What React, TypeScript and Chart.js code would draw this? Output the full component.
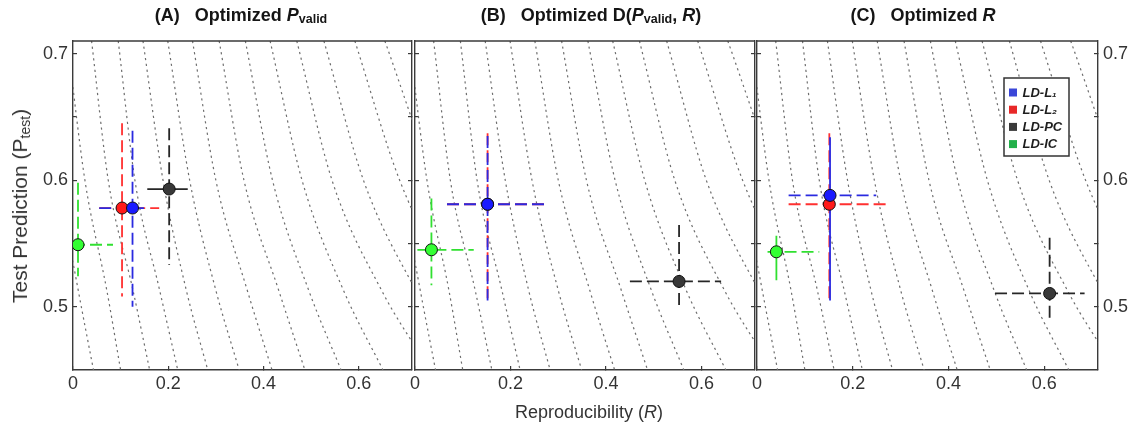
import React, { useEffect, useRef } from 'react';
import { Chart, registerables } from 'chart.js';

Chart.register(...registerables);

const FONT = "'Liberation Sans', Arial, Helvetica, sans-serif";

// ---------- data ----------
const seriesNames = ['LD-L\u2081', 'LD-L\u2082', 'LD-PC', 'LD-IC'];

const xTickValues = [0, 0.2, 0.4, 0.6];
const xTickLabels = ['0', '0.2', '0.4', '0.6'];
const yTickValues = [0.5, 0.55, 0.6, 0.65, 0.7];
const yTickLabels = ['0.5', '', '0.6', '', '0.7'];
const X_MIN = 0;
const X_MAX = 0.712;
const Y_MIN = 0.45;
const Y_MAX = 0.71;

// Panel A: Optimized P_valid  (order: L1, L2, PC, IC)
const aR = [0.125, 0.103, 0.202, 0.0105];
const aP = [0.578, 0.578, 0.593, 0.549];
const aRlo = [0.055, 0.055, 0.156, 0.0];
const aRhi = [0.149, 0.181, 0.241, 0.084];
const aPlo = [0.5, 0.508, 0.533, 0.524];
const aPhi = [0.639, 0.645, 0.641, 0.598];

// Panel B: Optimized D(P_valid, R)
const bR = [0.152, 0.152, 0.553, 0.0344];
const bP = [0.581, 0.581, 0.52, 0.545];
const bRlo = [0.067, 0.067, 0.45, 0.005];
const bRhi = [0.272, 0.274, 0.641, 0.123];
const bPlo = [0.505, 0.505, 0.5, 0.517];
const bPhi = [0.635, 0.637, 0.5645, 0.5855];

// Panel C: Optimized R
const cR = [0.1525, 0.151, 0.611, 0.0405];
const cP = [0.588, 0.581, 0.5105, 0.5434];
const cRlo = [0.066, 0.066, 0.497, 0.022];
const cRhi = [0.249, 0.273, 0.684, 0.13];
const cPlo = [0.505, 0.505, 0.489, 0.521];
const cPhi = [0.634, 0.637, 0.5545, 0.556];

// Background iso-lines: R position read at each of these P levels
const contourP = [0.71, 0.6, 0.513, 0.45];
const contourR: number[][] = [
  [-0.065, -0.03, 0.011, 0.043],
  [-0.012, 0.025, 0.071, 0.1],
  [0.039, 0.074, 0.126, 0.161],
  [0.095, 0.13, 0.182, 0.22],
  [0.147, 0.189, 0.238, 0.283],
  [0.199, 0.245, 0.3, 0.349],
  [0.251, 0.3, 0.366, 0.418],
  [0.307, 0.359, 0.432, 0.487],
  [0.362, 0.419, 0.495, 0.563],
  [0.414, 0.481, 0.568, 0.651],
  [0.47, 0.544, 0.648, 0.75],
  [0.527, 0.61, 0.72, 0.82],
  [0.592, 0.686, 0.8, 0.9],
  [0.655, 0.76, 0.88, 0.98],
];

// ---------- styles ----------
const markerFill = ['#1a1aff', '#ff1a1a', '#383838', '#33ff33'];
const barColor = ['#2a2ae0', '#ff3030', '#262626', '#30e030'];
const legendColor = ['#3a46d8', '#e82828', '#3a3a3a', '#22b04a'];
const AXIS = '#3a3a3a';
const DASH = [12, 5];
// bars drawn solid: [panel][series] -> [horizontalSolid, verticalSolid]
const solid: boolean[][][] = [
  [[false, false], [false, false], [true, false], [false, false]],
  [[false, false], [false, false], [false, false], [false, false]],
  [[false, true], [false, false], [false, false], [false, true]],
];

type PanelData = { R: number[]; P: number[]; Rlo: number[]; Rhi: number[]; Plo: number[]; Phi: number[] };
const panelData: PanelData[] = [
  { R: aR, P: aP, Rlo: aRlo, Rhi: aRhi, Plo: aPlo, Phi: aPhi },
  { R: bR, P: bP, Rlo: bRlo, Rhi: bRhi, Plo: bPlo, Phi: bPhi },
  { R: cR, P: cP, Rlo: cRlo, Rhi: cRhi, Plo: cPlo, Phi: cPhi },
];

function buildDatasets(idx: number) {
  const p = panelData[idx];
  const ds: any[] = [];
  for (let i = 0; i < 4; i++) {
    ds.push({
      label: seriesNames[i],
      data: [{ x: p.R[i], y: p.P[i] }],
      pointRadius: 6,
      pointHoverRadius: 6,
      pointBackgroundColor: markerFill[i],
      pointBorderColor: '#111',
      pointBorderWidth: 1,
      showLine: false,
      order: 0,
    });
  }
  for (let i = 0; i < 4; i++) {
    ds.push({
      label: seriesNames[i] + ' R-range',
      data: [{ x: p.Rlo[i], y: p.P[i] }, { x: p.Rhi[i], y: p.P[i] }],
      showLine: true,
      pointRadius: 0,
      borderColor: barColor[i],
      borderWidth: 1.8,
      borderDash: solid[idx][i][0] ? [] : DASH,
      order: 1,
    });
    ds.push({
      label: seriesNames[i] + ' P-range',
      data: [{ x: p.R[i], y: p.Phi[i] }, { x: p.R[i], y: p.Plo[i] }],
      showLine: true,
      pointRadius: 0,
      borderColor: barColor[i],
      borderWidth: 1.8,
      borderDash: solid[idx][i][1] ? [] : DASH,
      order: 1,
    });
  }
  contourR.forEach((xs, k) => {
    ds.push({
      label: 'iso ' + k,
      data: xs.map((x, j) => ({ x, y: contourP[j] })),
      showLine: true,
      pointRadius: 0,
      borderColor: '#6e6e6e',
      borderWidth: 1.2,
      borderDash: [2.2, 3.6],
      cubicInterpolationMode: 'monotone',
      order: 2,
    });
  });
  return ds;
}

const framePlugin = {
  id: 'frameTop',
  afterDatasetsDraw(chart: any) {
    const { ctx, chartArea: a } = chart;
    ctx.save();
    ctx.strokeStyle = AXIS;
    ctx.lineWidth = 1.4;
    ctx.beginPath();
    ctx.moveTo(a.left, a.top);
    ctx.lineTo(a.right, a.top);
    ctx.stroke();
    ctx.restore();
  },
};

const legendPlugin = {
  id: 'boxLegend',
  afterDraw(chart: any) {
    const { ctx, chartArea: a } = chart;
    const bx = a.right - 94;
    const by = a.top + 37;
    const bw = 65;
    const bh = 78;
    ctx.save();
    ctx.fillStyle = '#fff';
    ctx.fillRect(bx, by, bw, bh);
    ctx.strokeStyle = '#333';
    ctx.lineWidth = 1.5;
    ctx.strokeRect(bx, by, bw, bh);
    ctx.font = `italic bold 13px ${FONT}`;
    ctx.textBaseline = 'middle';
    ctx.textAlign = 'left';
    seriesNames.forEach((name, i) => {
      const cy = by + 14.5 + i * 17.2;
      ctx.fillStyle = legendColor[i];
      ctx.fillRect(bx + 5, cy - 4, 8, 8);
      ctx.fillStyle = '#1e1e1e';
      ctx.fillText(name, bx + 18.5, cy + 0.5);
    });
    ctx.restore();
  },
};

function yAxis(position: 'left' | 'right', showLabels: boolean, width: number) {
  return {
    type: 'linear',
    position,
    min: Y_MIN,
    max: Y_MAX,
    afterBuildTicks: (s: any) => {
      s.ticks = yTickValues.map((v) => ({ value: v }));
    },
    afterFit: (s: any) => {
      s.width = width;
      s.paddingTop = 0;
      s.paddingBottom = 0;
    },
    ticks: {
      display: showLabels,
      autoSkip: false,
      padding: 9,
      color: '#333',
      font: { family: FONT, size: 18 },
      callback: (_v: any, i: number) => yTickLabels[i],
    },
    grid: { drawOnChartArea: false, drawTicks: true, tickLength: -4, color: AXIS, lineWidth: 1.2 },
    border: { display: true, color: AXIS, width: 1.4 },
  };
}

function buildConfig(idx: number, leftW: number, rightW: number): any {
  const plugins: any[] = [framePlugin];
  if (idx === 2) plugins.push(legendPlugin);
  return {
    type: 'scatter',
    data: { datasets: buildDatasets(idx) },
    plugins,
    options: {
      animation: false,
      responsive: false,
      events: [],
      layout: { autoPadding: false, padding: { top: 41, left: 0, right: 0, bottom: 0 } },
      plugins: { legend: { display: false }, tooltip: { enabled: false }, title: { display: false } },
      scales: {
        x: {
          type: 'linear',
          position: 'bottom',
          min: X_MIN,
          max: X_MAX,
          afterBuildTicks: (s: any) => {
            s.ticks = xTickValues.map((v) => ({ value: v }));
          },
          afterFit: (s: any) => {
            s.height = 57;
            s.paddingLeft = 0;
            s.paddingRight = 0;
          },
          ticks: {
            autoSkip: false,
            maxRotation: 0,
            padding: 7,
            color: '#333',
            font: { family: FONT, size: 18 },
            callback: (_v: any, i: number) => xTickLabels[i],
          },
          grid: { drawOnChartArea: false, drawTicks: true, tickLength: -4, color: AXIS, lineWidth: 1.2 },
          border: { display: true, color: AXIS, width: 1.4 },
        },
        y: yAxis('left', idx === 0, leftW),
        yR: yAxis('right', idx === 2, rightW),
      },
    },
  };
}

function Panel(props: { idx: number; left: number; width: number; leftW: number; rightW: number }) {
  const ref = useRef<HTMLCanvasElement>(null);
  useEffect(() => {
    const chart = new Chart(ref.current as HTMLCanvasElement, buildConfig(props.idx, props.leftW, props.rightW));
    return () => chart.destroy();
  }, []);
  return (
    <canvas
      ref={ref}
      width={props.width}
      height={427}
      style={{ position: 'absolute', left: props.left, top: 0, width: props.width, height: 427 }}
    />
  );
}

const titleStyle = (cx: number): React.CSSProperties => ({
  position: 'absolute',
  left: cx,
  top: 5,
  transform: 'translateX(-50%)',
  fontWeight: 'bold',
  fontSize: 18,
  lineHeight: '21px',
  whiteSpace: 'pre',
  color: '#151515',
});
const subStyle: React.CSSProperties = { fontSize: 12.5, position: 'relative', top: 2 };

export default function App() {
  return (
    <div
      style={{
        position: 'absolute',
        left: 0,
        top: 0,
        width: 1133,
        height: 427,
        background: '#fff',
        fontFamily: FONT,
        overflow: 'hidden',
      }}
    >
      <Panel idx={0} left={0} width={413} leftW={73} rightW={1} />
      <Panel idx={1} left={400} width={356} leftW={15} rightW={1} />
      <Panel idx={2} left={744} width={389} leftW={13} rightW={35} />

      <div style={titleStyle(241)}>
        {'(A)   Optimized '}
        <i>P</i>
        <span style={subStyle}>valid</span>
      </div>
      <div style={titleStyle(591)}>
        {'(B)   Optimized D('}
        <i>P</i>
        <span style={subStyle}>valid</span>
        {', '}
        <i>R</i>
        {')'}
      </div>
      <div style={titleStyle(923)}>
        {'(C)   Optimized '}
        <i>R</i>
      </div>

      <div
        style={{
          position: 'absolute',
          left: 20,
          top: 206,
          transform: 'translate(-50%, -50%) rotate(-90deg)',
          whiteSpace: 'nowrap',
          fontSize: 21,
          color: '#333',
        }}
      >
        Test Prediction (P<span style={{ fontSize: 14, position: 'relative', top: 3 }}>test</span>)
      </div>
      <div
        style={{
          position: 'absolute',
          left: 589,
          top: 412,
          transform: 'translate(-50%, -50%)',
          whiteSpace: 'nowrap',
          fontSize: 18,
          color: '#333',
        }}
      >
        Reproducibility (<i>R</i>)
      </div>
    </div>
  );
}
